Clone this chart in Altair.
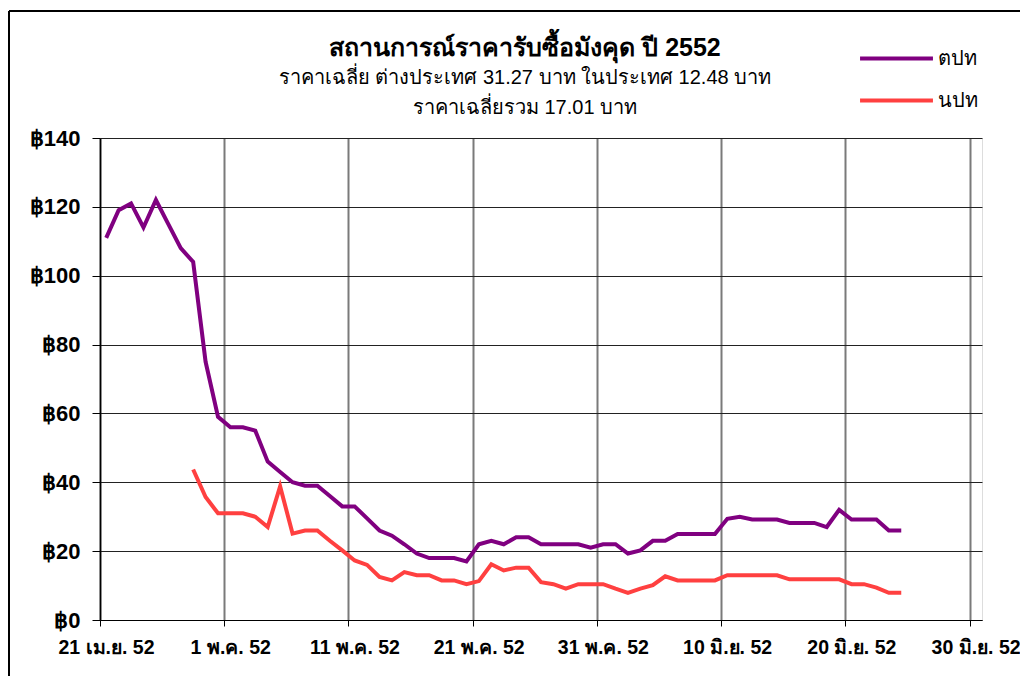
import json
import altair as alt
import pandas as pd

# ---------------- data ----------------
START = "2009-04-21"          # 21 เม.ย. 52
SERIES = ["ตปท", "นปท"]
COLORS = ["#800080", "#FF4040"]

# ตปท (daily, 21 Apr .. 24 Jun)
FOREIGN = [111, 119, 121, 114, 122, 115, 108, 104, 75, 59,
           56, 56, 55, 46, 43, 40, 39, 39, 36, 33,
           33, 29.5, 26, 24.5, 22, 19.3, 18, 18, 18, 17,
           22, 23, 22, 24, 24, 22, 22, 22, 22, 21,
           22, 22, 19.3, 20.2, 23, 23, 25, 25, 25, 25,
           29.4, 30, 29.2, 29.2, 29.2, 28.2, 28.2, 28.2, 27, 32,
           29.2, 29.2, 29.2, 26, 26]

# นปท (starts 28 Apr)
DOMESTIC = [None, None, None, None, None, None, None, 43.7, 35.7, 31,
            31, 31, 30, 27, 38.8, 25.1, 26, 26, 23, 20.2,
            17.3, 16, 12.5, 11.5, 13.9, 13, 13, 11.5, 11.5, 10.4,
            11.3, 16.2, 14.4, 15.2, 15.2, 11, 10.4, 9.1, 10.4, 10.4,
            10.4, 9.1, 7.9, 9.1, 10.1, 12.7, 11.5, 11.5, 11.5, 11.5,
            13, 13, 13, 13, 13, 11.8, 11.8, 11.8, 11.8, 11.8,
            10.4, 10.4, 9.4, 7.9, 7.9]

X_TICK_LABELS = ["21 เม.ย. 52", "1 พ.ค. 52", "11 พ.ค. 52", "21 พ.ค. 52",
                 "31 พ.ค. 52", "10 มิ.ย. 52", "20 มิ.ย. 52", "30 มิ.ย. 52"]
X_TICKS = [0, 10, 20, 30, 40, 50, 60, 70]
Y_TICKS = [0, 20, 40, 60, 80, 100, 120, 140]

TITLE = "สถานการณ์ราคารับซื้อมังคุด ปี 2552"
SUBTITLE = ["ราคาเฉลี่ย ต่างประเทศ 31.27 บาท ในประเทศ 12.48 บาท",
            "ราคาเฉลี่ยรวม 17.01 บาท"]

# ---------------- build table ----------------
dates = pd.date_range(START, periods=len(FOREIGN), freq="D")
rows = []
for i, d in enumerate(dates):
    for name, vals in zip(SERIES, [FOREIGN, DOMESTIC]):
        v = vals[i]
        if v is not None:
            # Excel date axis: each day's point sits in the middle of the day
            rows.append({"series": name,
                         "day": (d - pd.Timestamp(START)).days + 0.5,
                         "price": v})
df = pd.DataFrame(rows)

FONT = "Liberation Sans, Arial, sans-serif"
label_expr = json.dumps(X_TICK_LABELS, ensure_ascii=False) + "[round(datum.value / 10)]"

# long legend line drawn by a custom symbol path (3x the nominal symbol width)
SYM = 24.3  # nominal symbol width in px

lines = alt.Chart(df).mark_line(strokeWidth=4, clip=True).encode(
    x=alt.X("day:Q",
            scale=alt.Scale(domain=[0, 71], nice=False, zero=False),
            axis=alt.Axis(values=X_TICKS, labelExpr=label_expr, title=None,
                          labelFontSize=19.5, labelFontWeight="bold", labelFont=FONT,
                          labelColor="black", labelOffset=6, labelPadding=12,
                          tickSize=6, tickColor="black", domainColor="black",
                          grid=True, gridColor="#7a7a7a", gridWidth=2,
                          labelFlush=False, labelOverlap=False)),
    y=alt.Y("price:Q",
            scale=alt.Scale(domain=[0, 140], nice=False),
            axis=alt.Axis(values=Y_TICKS, labelExpr="'฿' + datum.value", title=None,
                          labelFontSize=22, labelFontWeight="bold", labelFont=FONT,
                          labelColor="black", labelPadding=12,
                          tickSize=8, tickColor="black", domainColor="black",
                          domainWidth=1.5, grid=True, gridColor="#222222",
                          gridWidth=1)),
    color=alt.Color("series:N",
                    scale=alt.Scale(domain=SERIES, range=COLORS),
                    legend=alt.Legend(title=None, orient="none",
                                      legendX=782, legendY=-94,
                                      symbolType="M-3,0H3", symbolSize=SYM * SYM,
                                      symbolStrokeWidth=4, symbolFillColor="transparent",
                                      labelFontSize=20,
                                      labelFont=FONT, labelColor="black",
                                      labelOffset=27, rowPadding=17, padding=0)),
)

frame_src = alt.Chart(alt.Data(values=[{}]))
border_top = frame_src.mark_rule(stroke="black", strokeWidth=2).encode(
    x=alt.value(-91), x2=alt.value(1200), y=alt.value(-127))
border_left = frame_src.mark_rule(stroke="black", strokeWidth=2).encode(
    x=alt.value(-91), y=alt.value(-127), y2=alt.value(800))

chart = alt.layer(border_top, border_left, lines).properties(
    width=882,
    height=482,
    autosize=alt.AutoSizeParams(type="none"),
    padding={"left": 92, "top": 130, "right": 38, "bottom": 56},
    title=alt.TitleParams(
        text=TITLE, subtitle=SUBTITLE, anchor="middle", dx=-16, dy=108,
        font=FONT, fontSize=25, fontWeight="bold", color="black",
        subtitleFont=FONT, subtitleFontSize=20, subtitleColor="black",
        subtitleLineHeight=30, subtitlePadding=7, offset=0),
).configure_view(stroke="black", strokeWidth=1).configure(background="white")

chart.save("out.html", embed_options={"renderer": "svg", "actions": False})
